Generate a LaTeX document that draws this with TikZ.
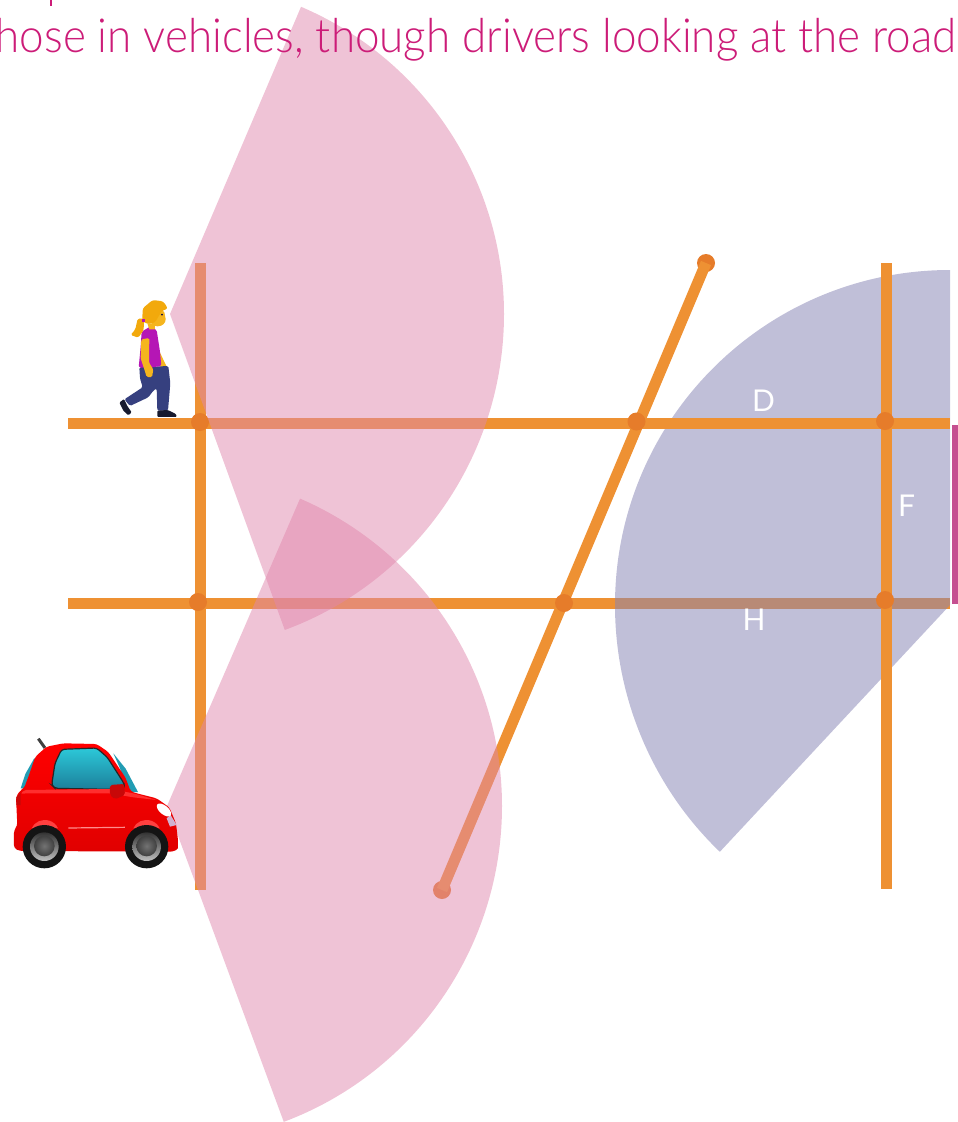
\documentclass[tikz,border=0pt]{standalone}
\usepackage{fontspec}
\setmainfont[FakeStretch=0.935]{Lato Light}
\newfontfamily\labelfont{Lato}
\definecolor{roadorange}{HTML}{EE9133}
\definecolor{dotorange}{HTML}{E67C2A}
\definecolor{captionpink}{HTML}{CC1C78}
\definecolor{wedgepink}{HTML}{E088AD}
\definecolor{wedgeblue}{HTML}{8784B4}
\definecolor{barpink}{HTML}{C54F90}
\definecolor{skin}{HTML}{F5B51E}
\definecolor{hair}{HTML}{F2A90C}
\definecolor{shirt}{HTML}{B516B5}
\definecolor{jeans}{HTML}{36407F}
\definecolor{shoe}{HTML}{171A2E}
\definecolor{darkred}{HTML}{C80808}
\definecolor{glasstop}{HTML}{2CC8D8}
\definecolor{glassbot}{HTML}{1C7F9A}
\tikzset{
  road/.style={draw=roadorange,line width=11pt},
  jointdot/.style={circle,fill=dotorange,draw=none,inner sep=0pt,minimum size=18pt},
  pinkwedge/.style={fill=wedgepink,fill opacity=.5},
  bluewedge/.style={fill=wedgeblue,fill opacity=.52},
  streetlabel/.style={text=white,font=\labelfont\fontsize{30}{30}\selectfont,inner sep=0pt}
}
\begin{document}
\begin{tikzpicture}[x=1pt,y=-1pt]
\useasboundingbox (0,0) rectangle (958,1122);
\clip (0,0) rectangle (958,1122);

% end points
\coordinate (hA) at (68,423.5);  \coordinate (hAe) at (950,423.5);
\coordinate (hB) at (68,603.5);  \coordinate (hBe) at (950,603.5);
\coordinate (vLt) at (200,263);  \coordinate (vLb) at (200,890);
\coordinate (vRt) at (886,263);  \coordinate (vRb) at (886,889);

% lower road lies under the blue wedge
\draw[road] (hB) -- (hBe);

% blue wedge
\fill[bluewedge] (950,605) -- ++(0,-335) arc[start angle=270,end angle=180,radius=335] arc[start angle=180,end angle=133.4,x radius=335,y radius=339.7] -- cycle;

% roads over the blue wedge
\draw[road] (hA) -- (hAe);
\draw[road] (vLt) -- (vLb);
\draw[road] (vRt) -- (vRb);

% joints
\node[jointdot] (dA) at (200,422) {};
\node[jointdot] (dC) at (885,421) {};
\node[jointdot] (dD) at (198,602) {};
\node[jointdot] (dF) at (885,600) {};
\node[jointdot] (dTop) at (706,263) {};
\node[jointdot] (dBot) at (442,890) {};
\draw[road] (dTop.center) -- (dBot.center);
\node[jointdot] (dB) at (636.5,421.5) {};
\node[jointdot] (dE) at (564,603) {};

% pink wedges
\fill[pinkwedge] (170,314) -- ++(-66.9:334) arc[start angle=-66.9,end angle=0,radius=334] arc[start angle=0,end angle=69.9,x radius=334,y radius=336.5] -- cycle;
\fill[pinkwedge] (167,806) -- ++(-66.6:335) arc[start angle=-66.6,end angle=0,radius=335] arc[start angle=0,end angle=69.6,x radius=335,y radius=337] -- cycle;

% pink bar
\fill[barpink] (951.5,425) rectangle (958,604);

% labels
\node[streetlabel] (lD) at (763.5,400.5) {D};
\node[streetlabel] (lF) at (906.5,505.5) {F};
\node[streetlabel] (lH) at (754,620) {H};

% cut-off text
\node[anchor=base west,inner sep=0pt,text=captionpink,font=\fontsize{47}{50}\selectfont] (caption) at (-19.5,52) {those in vehicles, though drivers looking at the road};
\fill[captionpink] (50.3,0) rectangle (51.9,6);

% pedestrian
\begin{scope}[shift={(100,280)},x=.3333pt,y=-.3333pt]
  % back arm
  \fill[skin,rounded corners=1pt] (172,200) -- (188,235) -- (204,268) -- (198,280) -- (183,262) -- (165,235) -- cycle;
  % trousers
  \fill[jeans,rounded corners=1.5pt] (118,262) -- (205,258) -- (211,310) -- (204,392) -- (172,392) -- (170,325) -- (160,332) -- (145,352) -- (90,378) -- (73,358) -- (128,322) -- (120,295) -- cycle;
  % shoes
  \fill[shoe,rounded corners=1pt] (58,368) -- (72,357) -- (82,378) -- (95,397) -- (85,406) -- (70,392) -- cycle;
  \fill[shoe,rounded corners=1pt] (172,392) -- (203,390) -- (228,402) -- (230,411) -- (172,411) -- cycle;
  % shirt
  \fill[shirt,rounded corners=1.5pt] (125,155) -- (150,140) -- (170,150) -- (180,215) -- (184,258) -- (150,263) -- (116,263) -- (122,200) -- cycle;
  % neck and face
  \fill[skin] (142,130) -- (165,130) -- (165,148) -- (148,148) -- cycle;
  \fill[skin,rounded corners=1.5pt] (165,92) -- (192,92) -- (198,122) -- (188,136) -- (168,140) -- (152,128) -- cycle;
  \fill[black!70!blue] (186,104) circle[radius=3];
  % hair
  \fill[hair,rounded corners=2.5pt] (127,122) -- (128,85) -- (158,60) -- (190,64) -- (204,86) -- (186,92) -- (172,115) -- (165,128) -- (140,132) -- cycle;
  \fill[hair,rounded corners=1.5pt] (132,116) -- (113,116) -- (106,148) -- (92,165) -- (115,173) -- (131,150) -- cycle;
  \fill[shirt] (127,117) rectangle (135,127);
  % front arm
  \fill[skin,rounded corners=1.5pt] (124,178) -- (148,174) -- (147,248) -- (160,268) -- (156,292) -- (140,291) -- (132,265) -- (122,235) -- cycle;
\end{scope}

% car
\begin{scope}[shift={(0,720)},x=.3333pt,y=-.3333pt]
  \draw[line width=3pt,draw=black!75] (115,56) -- (135,84);
  % rear and front window slivers
  \fill[glassbot!60!glasstop] (62,205) -- (76,162) -- (102,116) -- (112,112) -- (85,205) -- cycle;
  \fill[glassbot!60!glasstop] (340,100) -- (377,146) -- (414,216) -- (385,216) -- (360,145) -- cycle;
  % body
  \shade[top color=red,bottom color=red!88!black,rounded corners=3pt] (42,385) -- (42,330) -- (52,318) -- (48,230) -- (62,210) -- (72,205) -- (86,168) -- (106,110) -- (140,80) -- (190,70) -- (290,72) -- (325,96) -- (376,172) -- (392,214) -- (410,220) -- (470,235) -- (508,262) -- (528,310) -- (537,385) -- (520,395) -- (60,393) -- cycle;
  % window
  \shade[top color=glasstop,bottom color=glassbot,draw=black!85,line width=1.2pt,rounded corners=3pt] (155,195) -- (165,130) -- (185,88) -- (290,84) -- (322,112) -- (372,190) -- (374,206) -- (330,208) -- (165,205) -- cycle;
  % highlights
  \fill[red!82!white,rounded corners=2pt] (62,222) -- (72,210) -- (330,207) -- (400,220) -- (470,240) -- (400,232) -- (330,220) -- (75,220) -- cycle;
  \draw[line width=1.2pt,draw=red!45!white] (205,324) -- (375,322);
  \fill[darkred] (49,232) -- (62,218) -- (62,255) -- (49,255) -- cycle;
  % mirror
  \fill[darkred,rounded corners=2pt] (330,195) -- (372,192) -- (375,225) -- (345,238) -- (330,225) -- cycle;
  % headlight
  \fill[black!20!violet!30] (512,285) -- (530,315) -- (510,320) -- (500,295) -- cycle;
  \fill[white,rotate around={-40:(492,270)}] (492,270) ellipse[x radius=26,y radius=13];
  % arches
  \fill[red!75!white] (95,325) arc[start angle=200,end angle=340,x radius=42,y radius=38] -- cycle;
  \fill[red!75!white] (400,325) arc[start angle=200,end angle=340,x radius=42,y radius=38] -- cycle;
  % wheels
  \foreach \cx/\nm in {133/wa,440/wb}{
    \fill[black!92] (\cx,380) circle[radius=65];
    \shade[top color=black!80,bottom color=black!25] (\cx,380) circle[radius=43];
    \shade[inner color=black!55,outer color=black!75] (\cx,378) circle[radius=31];
  }
\end{scope}
\end{tikzpicture}
\end{document}
